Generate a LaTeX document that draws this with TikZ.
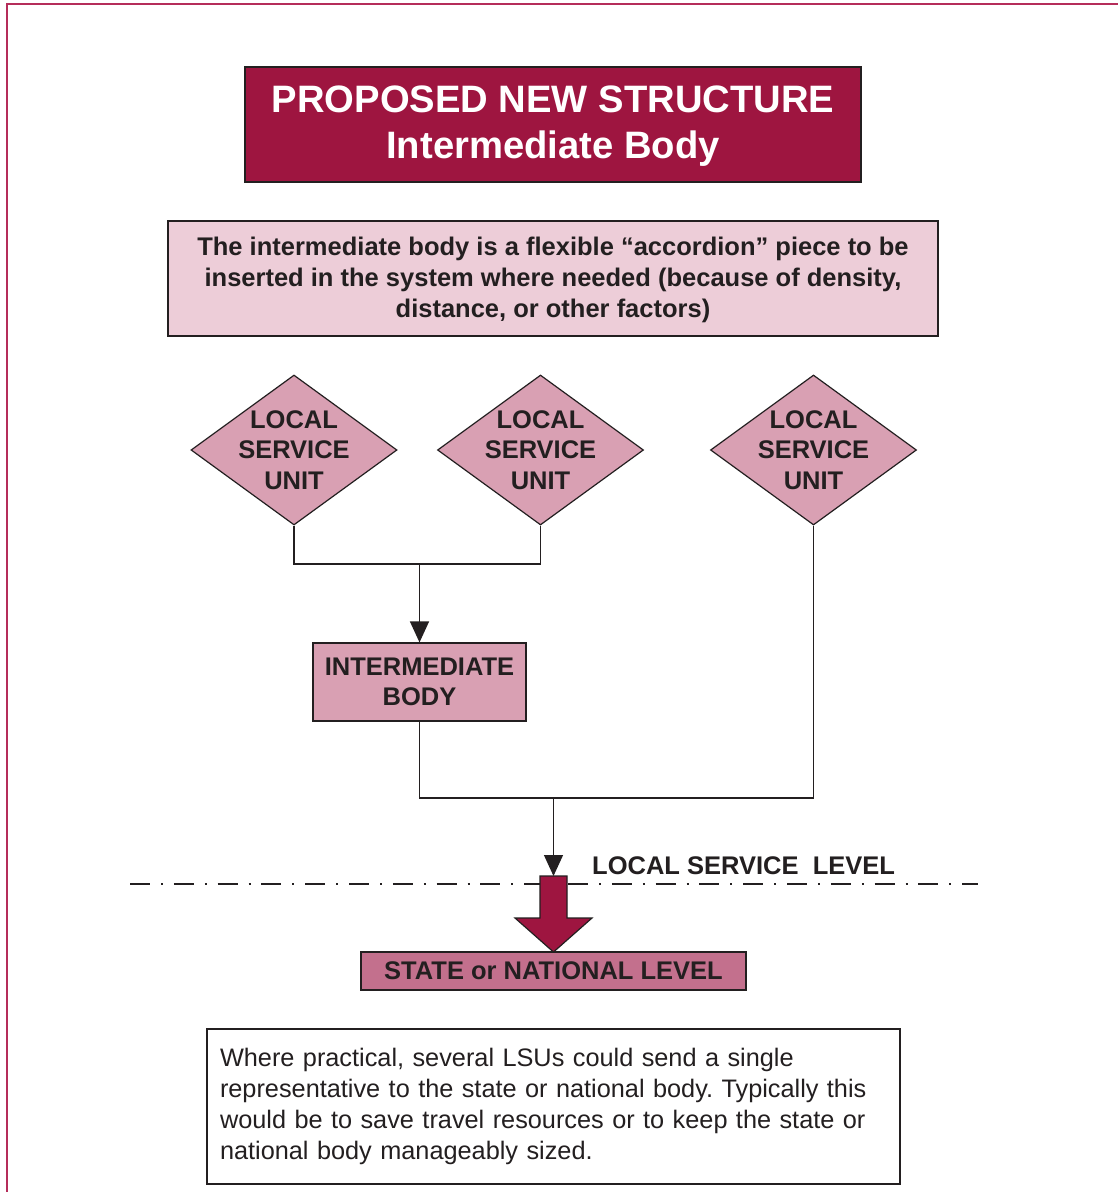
\documentclass[tikz,border=0pt]{standalone}
\usepackage{fontspec}
\setmainfont{Liberation Sans}
\usetikzlibrary{shapes.geometric,arrows.meta}
\definecolor{titlered}{RGB}{158,21,64}
\definecolor{lightpink}{RGB}{237,205,216}
\definecolor{midpink}{RGB}{217,160,179}
\definecolor{statepink}{RGB}{195,112,141}
\definecolor{framered}{RGB}{181,45,90}
\definecolor{ink}{RGB}{35,31,32}
\frenchspacing
\begin{document}
\begin{tikzpicture}[x=1pt,y=-1pt,
  box/.style={draw=ink, line width=1.2pt, inner sep=0pt, align=center},
  bodytext/.style={font=\fontsize{25.5}{30.6}\selectfont\bfseries, text=ink, inner sep=0pt},
  lsu/.style={diamond, draw=ink, line width=1.2pt, fill=midpink, minimum width=206pt, minimum height=150pt, inner sep=0pt},
  conn/.style={draw=ink, line width=1.3pt},
  arr/.style={conn, -{Triangle[width=19pt,length=21pt]}},
  dashdot/.style={draw=ink, line width=2pt, dash pattern=on 20pt off 11pt on 2pt off 10.8pt}
]
\useasboundingbox (0,0) rectangle (1118,1192);
\fill[white] (0,0) rectangle (1118,1192);
% frame
\coordinate (fb) at (7,1192);
\coordinate (fc) at (7,4);
\coordinate (fr) at (1118,4);
\draw[framered, line width=2pt] (fb) -- (fc) -- (fr);

% title
\node[box, fill=titlered, minimum width=616pt, minimum height=115pt] (title) at (553,124.5) {};
\node[text=white, inner sep=0pt, align=center,
  font=\fontsize{38.2}{45.8}\selectfont\bfseries] (titletext) at (553,126.5)
  {PROPOSED NEW STRUCTURE\\Intermediate Body};

% description
\node[box, fill=lightpink, minimum width=770pt, minimum height=115pt] (desc) at (553,278.5) {};
\node[bodytext, align=center] (desctext) at (553,280)
  {The intermediate body is a flexible “accordion” piece to be\\inserted in the system where needed (because of density,\\distance, or other factors)};

% diamonds
\node[lsu] (d1) at (294,450) {};
\node[lsu] (d2) at (540.5,450) {};
\node[lsu] (d3) at (813.5,450) {};
\node[bodytext, align=center] (t1) at (d1) {LOCAL\\SERVICE\\UNIT};
\node[bodytext, align=center] (t2) at (d2) {LOCAL\\SERVICE\\UNIT};
\node[bodytext, align=center] (t3) at (d3) {LOCAL\\SERVICE\\UNIT};

% intermediate body
\node[box, bodytext, fill=midpink, minimum width=213pt, minimum height=78pt] (ib) at (419.5,682)
  {INTERMEDIATE\\BODY};

% connectors
\coordinate (m1) at (419.5,564);
\draw[conn] (d1.south) |- (m1) -| (d2.south);
\draw[arr] (m1) -- (ib.north);

\coordinate (m2) at (553.5,798);
\coordinate (bat) at (553.5,876);
\draw[conn] (ib.south) |- (m2) -| (d3.south);

% dash-dot level line
\coordinate (ll) at (130,883.5);
\coordinate (lr) at (978,883.5);
\draw[dashdot] (ll) -- (lr);

\draw[arr] (m2) -- (bat);

% big arrow
\draw[ink, line width=1.2pt, fill=titlered, line join=miter]
  (540,876) -- (567,876) -- (567,918) -- (592,918) -- (553.5,952) -- (515,918) -- (540,918) -- cycle;

\node[bodytext, anchor=west] (lvl) at (592,866) {LOCAL SERVICE\ \ LEVEL};

% state box
\node[box, bodytext, fill=statepink, minimum width=385pt, minimum height=38pt] (state) at (553.5,971)
  {STATE or NATIONAL LEVEL};

% note box
\node[draw=ink, line width=1.2pt, fill=white, minimum width=693pt, minimum height=155pt,
  text width=667pt, inner xsep=13pt, inner ysep=0pt, align=left,
  font=\fontsize{25.3}{30.8}\selectfont, text=ink] (note) at (553.5,1106.5)
  {Where practical, several LSUs could send a single\\representative to the state or national body. Typically this\\would be to save travel resources or to keep the state or\\national body manageably sized.};
\end{tikzpicture}
\end{document}
